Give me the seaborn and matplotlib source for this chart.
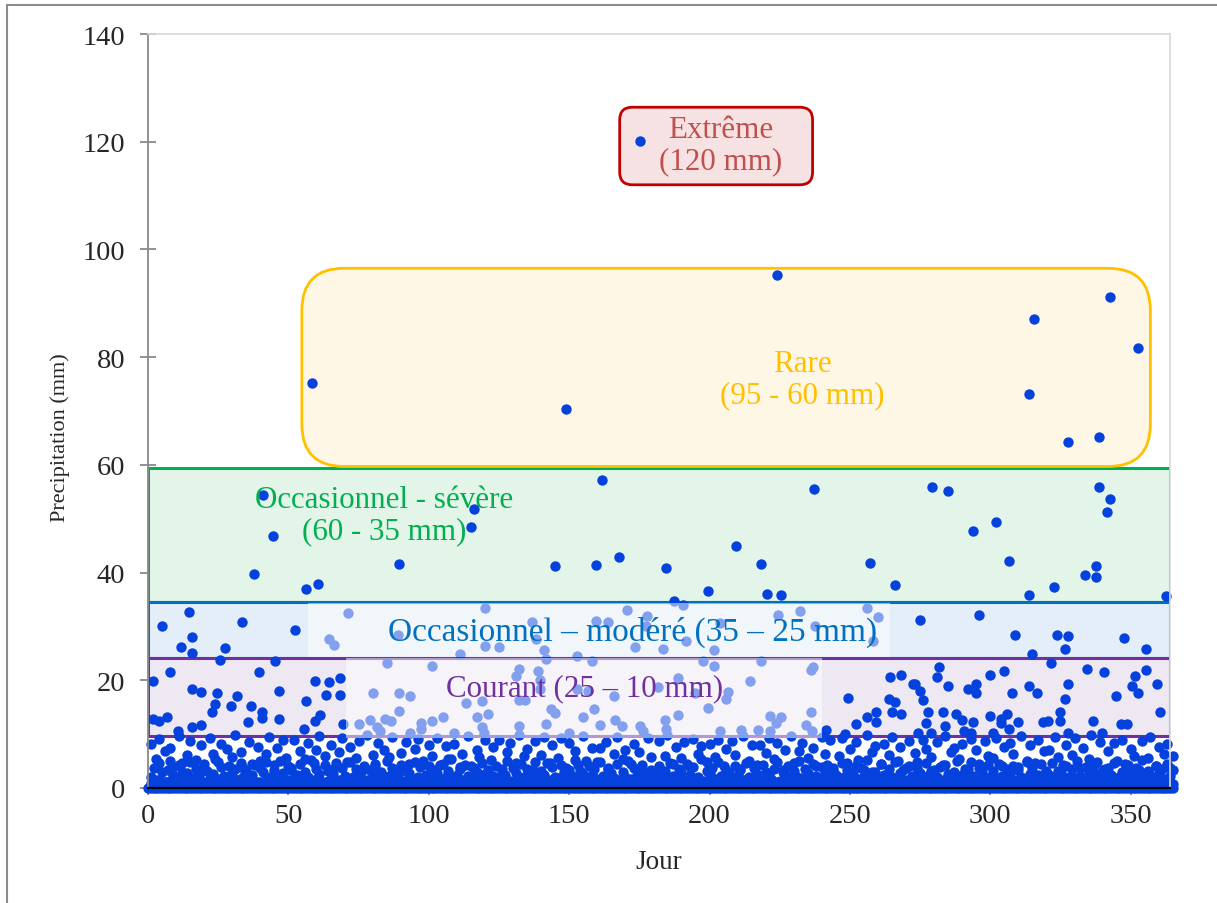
import pandas as pd
import seaborn as sns
import matplotlib.pyplot as plt
from matplotlib.patches import FancyBboxPatch, Rectangle

# wet days: (jour, mm)
extreme = [(175.4, 120.1)]
rare = [(58.4, 75.2), (148.8, 70.4), (224.2, 95.2), (342.7, 91.2), (315.7, 87.0),
        (352.7, 81.7), (313.9, 73.2), (327.8, 64.2), (338.8, 65.2)]
severe = [(41.0, 54.4), (44.5, 46.7), (37.6, 39.7), (56.3, 36.9), (60.5, 37.9), (89.3, 41.6),
          (161.8, 57.1), (116.0, 51.8), (115.2, 48.5), (144.8, 41.3), (159.7, 41.4), (167.7, 42.9),
          (237.3, 55.6), (209.4, 44.9), (184.6, 40.8), (218.4, 41.5), (199.5, 36.6), (220.3, 36.0),
          (225.4, 35.8), (257.1, 41.7), (266.1, 37.7), (187.5, 34.8), (279.1, 55.9), (285.0, 55.2),
          (338.7, 55.8), (342.6, 53.6), (341.5, 51.2), (301.9, 49.3), (293.9, 47.7), (306.8, 42.1),
          (337.6, 41.2), (333.7, 39.6), (337.6, 39.1), (322.8, 37.3), (313.8, 35.8), (362.7, 35.7)]
modere = [(4.9, 30.1), (14.7, 32.6), (15.7, 28.0), (11.9, 26.2), (15.7, 25.1), (27.6, 26.0),
          (33.5, 30.9), (52.4, 29.3), (71.4, 32.5), (64.3, 27.7), (66.4, 26.6), (25.6, 23.8),
          (45.4, 23.6), (89.0, 28.4), (120.0, 33.5), (136.8, 30.8), (138.1, 27.7), (120.0, 26.3),
          (125.0, 26.1), (141.1, 25.7), (111.2, 24.9), (170.7, 33.0), (177.7, 31.9), (177.2, 30.1),
          (159.7, 31.1), (163.8, 30.8), (173.5, 26.1), (152.8, 24.6), (141.8, 24.0), (158.0, 23.5),
          (190.6, 33.9), (232.3, 32.9), (224.3, 32.1), (256.1, 33.5), (260.1, 31.7), (203.6, 30.6),
          (237.4, 30.0), (191.5, 27.3), (183.6, 25.8), (201.5, 25.6), (258.1, 27.3), (197.6, 23.5),
          (201.5, 22.6), (218.4, 23.5), (275.0, 31.2), (295.8, 32.2), (308.9, 28.5), (323.7, 28.5),
          (327.6, 28.2), (326.7, 25.9), (347.6, 27.9), (355.6, 25.9), (314.7, 24.8), (321.7, 23.3)]
courant = [(1.8, 19.9), (7.8, 21.5), (39.6, 21.5), (15.7, 18.3), (18.7, 17.8), (24.7, 17.6),
           (23.7, 15.6), (22.7, 14.1), (29.6, 15.2), (31.6, 17.0), (36.7, 15.3), (40.7, 14.2),
           (40.7, 13.0), (46.6, 18.1), (46.6, 12.8), (59.4, 19.9), (64.4, 19.6), (68.3, 20.5),
           (56.3, 16.2), (63.3, 17.2), (68.3, 17.2), (61.2, 13.6), (59.4, 12.4), (35.7, 12.3),
           (1.8, 12.8), (3.9, 12.4), (6.8, 13.2), (15.7, 11.4), (18.7, 11.7), (10.8, 10.6),
           (55.4, 11.0), (69.3, 11.9), (85.3, 23.2), (80.2, 17.6), (89.3, 17.6), (89.3, 14.3),
           (75.3, 11.9), (79.2, 12.6), (84.3, 12.8), (86.4, 12.5), (81.6, 11.3), (82.6, 10.5),
           (101.3, 22.6), (93.2, 17.1), (113.1, 15.7), (119.1, 16.2), (121.1, 13.7), (117.0, 13.1),
           (105.1, 13.2), (101.2, 12.5), (97.2, 12.0), (97.2, 11.0), (93.2, 10.2), (109.0, 10.3),
           (119.1, 11.3), (119.7, 10.2), (132.0, 22.1), (131.1, 20.8), (138.9, 21.7), (132.1, 16.3),
           (134.2, 16.3), (139.7, 20.1), (139.7, 18.4), (143.4, 14.7), (144.8, 13.9), (141.9, 11.9),
           (132.0, 11.6), (149.8, 10.3), (152.8, 18.4), (156.7, 18.1), (158.8, 14.7), (154.9, 13.1),
           (160.9, 11.7), (165.8, 17.1), (166.5, 12.7), (168.9, 11.6), (175.1, 11.6), (176.3, 10.5),
           (188.6, 20.4), (181.6, 18.8), (194.7, 17.6), (206.4, 17.8), (205.7, 16.5), (214.5, 19.9),
           (199.5, 14.9), (188.6, 13.6), (184.0, 12.6), (184.6, 11.0), (203.6, 10.5), (211.3, 10.7),
           (217.2, 10.8), (221.4, 13.3), (223.5, 12.1), (225.5, 13.1), (221.4, 10.5), (236.3, 22.0),
           (237.0, 22.4), (236.3, 14.1), (234.4, 11.7), (236.4, 10.5), (264.1, 20.7), (268.1, 21.0),
           (272.3, 19.3), (249.2, 16.8), (263.8, 16.5), (266.1, 16.0), (265.0, 14.1), (268.1, 13.7),
           (259.2, 14.1), (256.2, 13.2), (259.2, 12.2), (252.2, 11.8), (241.5, 10.8), (248.3, 10.0),
           (281.9, 22.5), (281.0, 20.6), (273.1, 19.3), (275.0, 18.1), (276.2, 16.3), (285.0, 19.0),
           (292.0, 18.4), (295.0, 19.4), (295.0, 17.6), (299.9, 20.9), (304.9, 21.7), (307.8, 17.6),
           (313.8, 18.9), (316.7, 17.6), (327.6, 19.4), (326.7, 16.5), (324.7, 14.2), (324.7, 12.5),
           (334.6, 22.1), (340.6, 21.5), (344.6, 17.1), (351.6, 20.8), (355.6, 21.9), (350.6, 18.9),
           (352.6, 17.6), (359.5, 19.3), (360.4, 14.2), (277.9, 14.2), (283.0, 14.1), (287.8, 13.7),
           (290.0, 12.7), (293.9, 12.3), (277.0, 12.1), (284.0, 11.6), (299.9, 13.4), (303.8, 12.8),
           (305.8, 13.7), (303.8, 12.0), (309.7, 12.2), (306.8, 11.0), (318.6, 12.2), (320.7, 12.4),
           (274.1, 10.3), (278.9, 10.3), (290.7, 10.6), (293.1, 10.3), (300.8, 10.3), (327.5, 10.3),
           (336.7, 12.5), (346.6, 11.8), (348.6, 11.9), (339.7, 10.3)]

# dry and light days, one value per day (jour 0..365)
jours = list(range(0, 366))
sec = [0.0] * 366
low_a = [0.9, 1.2, 0.6, 1.4, 0.8, 1.1, 0.5, 1.3, 0.7, 1.0, 1.4, 0.6, 0.9, 1.2, 0.4, 1.1, 0.8, 1.3, 0.7, 1.0,
         1.2, 0.5, 1.4, 0.9, 0.7, 1.1, 1.3, 0.6, 1.0, 0.8, 1.4, 0.5, 1.2, 0.9, 1.1, 0.7, 1.3, 0.6, 1.0, 1.2,
         0.8, 1.4, 0.6, 1.1, 0.9, 1.3, 0.5, 1.0, 1.2, 0.7, 1.4, 0.9, 0.6, 1.1, 1.3, 0.8, 1.0, 0.5, 1.2, 1.4,
         0.7, 1.1, 0.9, 1.3, 0.6, 1.0, 1.2, 0.8, 1.4, 0.5, 1.1, 0.9, 1.3, 0.7, 1.0, 1.2, 0.6, 1.4, 0.8, 1.1,
         1.3, 0.6, 1.0, 1.2, 0.8, 1.4, 0.7, 0.9, 1.1, 0.5, 1.3, 1.0, 0.8, 1.2, 0.6, 1.4, 0.9, 1.1, 0.7, 1.3,
         0.5, 1.0, 1.2, 0.9, 1.4, 0.7, 1.1, 0.6, 1.3, 0.8, 1.0, 1.2, 0.5, 1.4, 0.9, 1.1, 0.7, 1.3, 0.6, 1.0,
         1.2, 0.8, 1.4, 0.6, 1.1, 0.9, 1.3, 0.5, 1.0, 1.2, 0.7, 1.4, 0.8, 1.1, 0.6, 1.3, 0.9, 1.0, 1.2, 0.5,
         1.4, 0.7, 1.1, 0.9, 1.3, 0.6, 1.0, 1.2, 0.8, 1.4, 0.5, 1.1, 0.9, 1.3, 0.7, 1.0, 1.2, 0.6, 1.4, 0.8,
         1.1, 1.3, 0.6, 1.0, 1.2, 0.8, 1.4, 0.7, 0.9, 1.1, 0.5, 1.3, 1.0, 0.8, 1.2, 0.6, 1.4, 0.9, 1.1, 0.7,
         1.3, 0.5, 1.0, 1.2, 0.9, 1.4, 0.7, 1.1, 0.6, 1.3, 0.8, 1.0, 1.2, 0.5, 1.4, 0.9, 1.1, 0.7, 1.3, 0.6,
         1.0, 1.2, 0.8, 1.4, 0.6, 1.1, 0.9, 1.3, 0.5, 1.0, 1.2, 0.7, 1.4, 0.8, 1.1, 0.6, 1.3, 0.9, 1.0, 1.2,
         0.5, 1.4, 0.7, 1.1, 0.9, 1.3, 0.6, 1.0, 1.2, 0.8, 1.4, 0.5, 1.1, 0.9, 1.3, 0.7, 1.0, 1.2, 0.6, 1.4,
         0.8, 1.1, 1.3, 0.6, 1.0, 1.2, 0.8, 1.4, 0.7, 0.9, 1.1, 0.5, 1.3, 1.0, 0.8, 1.2, 0.6, 1.4, 0.9, 1.1,
         0.7, 1.3, 0.5, 1.0, 1.2, 0.9, 1.4, 0.7, 1.1, 0.6, 1.3, 0.8, 1.0, 1.2, 0.5, 1.4, 0.9, 1.1, 0.7, 1.3,
         0.6, 1.0, 1.2, 0.8, 1.4, 0.6, 1.1, 0.9, 1.3, 0.5, 1.0, 1.2, 0.7, 1.4, 0.8, 1.1, 0.6, 1.3, 0.9, 1.0,
         1.2, 0.5, 1.4, 0.7, 1.1, 0.9, 1.3, 0.6, 1.0, 1.2, 0.8, 1.4, 0.5, 1.1, 0.9, 1.3, 0.7, 1.0, 1.2, 0.6,
         1.4, 0.8, 1.1, 1.3, 0.6, 1.0, 1.2, 0.8, 1.4, 0.7, 0.9, 1.1, 0.5, 1.3, 1.0, 0.8, 1.2, 0.6, 1.4, 0.9,
         1.1, 0.7, 1.3, 0.5, 1.0, 1.2, 0.9, 1.4, 0.7, 1.1, 0.6, 1.3, 0.8, 1.0, 1.2, 0.5, 1.4, 0.9, 1.1, 0.7,
         1.3, 0.6, 1.0, 1.2, 0.8]
low_b = [2.1, 3.8, 1.4, 4.6, 2.9, 1.2, 3.3, 5.1, 2.4, 1.7, 4.2, 3.0, 1.5, 2.7, 4.9, 1.9, 3.6, 2.2, 1.3, 4.4,
         3.1, 1.8, 2.6, 5.3, 1.6, 3.9, 2.3, 1.1, 4.1, 2.8, 3.5, 1.4, 4.7, 2.0, 3.2, 1.7, 2.5, 4.3, 1.2, 3.7,
         2.9, 4.8, 1.5, 2.2, 3.4, 1.9, 5.0, 2.7, 1.3, 4.0, 3.3, 1.6, 2.4, 4.5, 1.8, 3.0, 2.1, 5.2, 1.4, 3.6,
         2.6, 1.2, 4.2, 3.1, 1.7, 2.8, 4.6, 1.5, 3.8, 2.3, 1.1, 4.9, 2.0, 3.5, 1.6, 2.9, 4.1, 1.3, 3.3, 2.5,
         4.4, 1.9, 3.0, 1.4, 5.1, 2.2, 3.7, 1.8, 2.6, 4.3, 1.2, 3.2, 2.7, 1.5, 4.8, 2.1, 3.9, 1.7, 2.4, 4.0,
         1.6, 3.4, 2.8, 1.3, 4.5, 2.0, 3.1, 5.4, 1.9, 2.5, 3.6, 1.4, 4.2, 2.3, 1.8, 3.8, 2.9, 1.1, 4.7, 2.6,
         3.3, 1.5, 2.2, 4.1, 1.7, 3.0, 2.4, 5.0, 1.3, 3.7, 2.8, 1.6, 4.4, 2.1, 3.5, 1.2, 2.7, 4.9, 1.9, 3.2,
         2.5, 4.6, 1.4, 3.9, 2.0, 1.8, 4.3, 2.9, 1.5, 3.4, 2.2, 5.2, 1.7, 3.1, 2.6, 1.3, 4.0, 2.4, 3.6, 1.6,
         4.8, 2.3, 1.2, 3.5, 2.7, 1.9, 4.5, 1.4, 3.0, 2.1, 5.1, 1.6, 3.8, 2.5, 1.3, 4.2, 2.8, 1.7, 3.3, 2.0,
         1.5, 4.1, 2.6, 3.2, 1.8, 4.7, 2.2, 1.4, 3.6, 2.9, 1.1, 4.4, 2.4, 3.9, 1.7, 2.0, 5.3, 1.3, 3.1, 2.7,
         3.7, 1.6, 4.9, 2.3, 1.9, 3.4, 2.8, 1.2, 4.0, 2.5, 3.3, 1.5, 4.6, 2.1, 1.8, 3.8, 2.6, 1.4, 4.3, 3.0,
         2.2, 1.7, 3.5, 4.8, 1.3, 2.9, 2.4, 4.1, 1.6, 3.2, 2.0, 5.0, 1.9, 3.6, 2.7, 1.2, 4.5, 2.3, 1.5, 3.9,
         2.8, 4.2, 1.4, 3.1, 2.5, 1.8, 4.7, 2.1, 3.4, 1.3, 2.6, 4.0, 1.7, 3.7, 2.2, 5.2, 1.5, 3.0, 2.9, 1.6,
         4.4, 2.4, 1.2, 3.6, 2.0, 4.9, 1.9, 2.7, 3.3, 1.4, 4.1, 2.3, 1.6, 3.8, 2.8, 1.1, 4.6, 2.5, 3.2, 1.8,
         2.1, 3.9, 1.5, 4.3, 2.6, 1.7, 3.0, 5.1, 1.3, 2.4, 3.5, 1.9, 4.8, 2.2, 1.4, 3.7, 2.9, 1.6, 4.2, 2.0,
         3.1, 1.8, 4.5, 2.3, 1.2, 3.6, 2.7, 4.0, 1.5, 3.3, 2.1, 1.7, 4.9, 2.6, 3.8, 1.4, 2.5, 4.4, 1.9, 3.0,
         2.4, 4.7, 1.6, 3.2, 2.8, 1.3, 4.1, 2.0, 3.5, 1.8, 5.0, 2.2, 1.5, 3.9, 2.9, 1.2, 4.3, 2.6, 1.7, 3.4,
         1.9, 3.7, 2.5, 4.6, 1.4, 2.1, 3.0, 1.6, 4.2, 2.7, 1.3, 3.8, 2.3, 5.2, 1.8, 3.1, 2.4, 1.5, 4.0, 2.8,
         3.6, 1.7, 4.4, 2.2, 3.3]
low_c = [8.2, 0.6, 5.4, 9.1, 1.2, 6.8, 0.9, 7.5, 3.9, 1.1, 9.6, 4.7, 0.7, 6.1, 8.8, 1.4, 5.2, 0.8, 7.9, 3.4,
         1.0, 9.3, 6.4, 0.5, 4.9, 8.1, 1.3, 7.2, 0.9, 5.8, 9.8, 1.5, 6.6, 3.7, 0.6, 8.5, 4.4, 1.2, 7.7, 5.1,
         0.8, 6.3, 9.4, 1.1, 4.2, 7.4, 0.7, 8.9, 5.6, 1.4, 3.8, 9.0, 0.9, 6.9, 1.3, 5.3, 8.3, 0.6, 4.6, 7.1,
         9.7, 1.2, 5.9, 0.8, 8.0, 3.5, 1.5, 6.7, 9.2, 0.7, 4.8, 7.6, 1.0, 5.5, 8.7, 1.3, 3.6, 9.9, 0.9, 6.2,
         4.1, 8.4, 1.1, 7.0, 0.6, 5.7, 9.5, 1.4, 3.3, 6.5, 0.8, 8.6, 4.5, 1.2, 7.3, 9.1, 0.7, 5.0, 1.0, 8.0,
         6.0, 1.3, 9.3, 4.3, 0.9, 7.8, 5.4, 1.5, 8.2, 0.6, 3.9, 6.4, 1.1, 9.6, 4.0, 0.8, 7.1, 5.8, 1.4, 8.9,
         0.7, 5.2, 7.7, 1.2, 9.0, 3.6, 0.9, 6.6, 8.4, 1.0, 4.7, 9.8, 0.6, 5.9, 7.3, 1.3, 3.4, 8.8, 1.1, 6.1,
         9.4, 0.8, 4.6, 7.9, 1.5, 5.6, 9.2, 0.7, 3.7, 8.3, 1.2, 6.8, 4.2, 0.9, 9.7, 5.0, 1.4, 7.4, 0.6, 4.9,
         7.5, 1.0, 8.6, 3.8, 0.8, 6.3, 9.5, 1.3, 5.3, 7.0, 0.7, 4.4, 8.1, 1.1, 6.7, 3.5, 0.9, 9.3, 5.7, 1.4,
         3.2, 8.8, 0.6, 6.0, 9.9, 1.2, 4.5, 7.6, 0.8, 5.5, 8.5, 1.5, 3.9, 9.1, 0.7, 6.4, 7.8, 1.0, 4.8, 8.2,
         1.3, 5.8, 9.0, 0.9, 4.1, 7.2, 1.1, 8.7, 6.2, 0.6, 3.6, 9.6, 1.4, 5.1, 7.9, 0.8, 4.3, 8.0, 1.2, 6.5,
         9.2, 0.7, 5.4, 8.4, 1.0, 3.3, 7.1, 1.5, 9.7, 4.6, 0.9, 6.9, 8.3, 1.2, 5.6, 0.6, 7.5, 4.0, 1.3, 9.4,
         6.3, 1.1, 8.9, 3.7, 0.8, 5.9, 9.3, 1.4, 4.7, 7.3, 0.7, 8.6, 5.2, 1.0, 3.4, 9.8, 1.2, 6.7, 7.8, 0.9,
         4.4, 8.1, 1.3, 6.1, 9.5, 0.6, 5.0, 7.7, 1.1, 3.8, 8.8, 0.8, 6.5, 4.9, 1.5, 9.0, 7.2, 0.7, 5.7, 3.3,
         8.5, 1.2, 4.2, 9.6, 0.9, 6.6, 7.4, 1.4, 5.3, 8.2, 0.6, 3.5, 9.1, 1.0, 7.0, 4.5, 1.3, 8.7, 6.0, 0.8,
         5.5, 9.3, 1.1, 4.1, 7.6, 0.7, 8.4, 6.3, 1.2, 3.9, 9.7, 0.9, 5.1, 7.9, 1.4, 4.6, 8.9, 0.6, 6.8, 3.2,
         7.1, 1.0, 9.4, 5.8, 0.8, 4.3, 8.0, 1.3, 6.2, 9.2, 0.7, 3.7, 7.5, 1.1, 5.4, 9.9, 1.5, 4.8, 8.6, 0.9,
         3.6, 6.9, 1.2, 8.3, 5.0, 0.6, 9.0, 4.4, 1.4, 7.2, 6.0, 0.8, 3.3, 8.7, 1.1, 5.6, 9.5, 0.7, 4.0, 7.7,
         1.0, 6.4, 8.1, 3.8, 5.9]

frames = [pd.DataFrame({"jour": jours, "mm": sec})]
for layer in (low_a, low_b, low_c):
    frames.append(pd.DataFrame({"jour": jours[1:], "mm": layer}))
for band in (extreme, rare, severe, modere, courant):
    frames.append(pd.DataFrame(band, columns=["jour", "mm"]))
df = pd.concat(frames, ignore_index=True)

sns.set_theme(style="white")
plt.rcParams['font.family'] = ['Liberation Serif', 'DejaVu Serif']

W, H = 1217, 904
fig = plt.figure(figsize=(W / 100, H / 100), dpi=100)
ax = fig.add_axes([148 / W, 1 - 789 / H, (1170 - 148) / W, (789 - 35) / H])
ax.set_xlim(0, 364)
ax.set_ylim(0, 140)

# classes de pluie (bandes horizontales)
bands = [(34.5, 59.4, "#E3F4E9", "#00B050"),
         (24.2, 34.5, "#E4EEF8", "#0070C0"),
         (9.6, 24.2, "#EEE8F3", "#7030A0")]
for y0, y1, fc, ec in bands:
    ax.add_patch(Rectangle((0, y0), 364, y1 - y0, facecolor=fc, edgecolor=ec, lw=2.2, zorder=1))

asp = 2.809 / 5.386
ax.add_patch(FancyBboxPatch((54.8, 59.7), 302.2, 36.8,
                            boxstyle="round,pad=0,rounding_size=15", mutation_aspect=asp,
                            facecolor="#FFF7E6", edgecolor="#FFC000", lw=2, zorder=1))
ax.add_patch(FancyBboxPatch((168.0, 112.0), 68.7, 14.4,
                            boxstyle="round,pad=0,rounding_size=4.5", mutation_aspect=asp,
                            facecolor="#F6E2E2", edgecolor="#C00000", lw=2, zorder=1))

sns.scatterplot(data=df, x="jour", y="mm", color="#0541DC", s=56, linewidth=0,
                ax=ax, zorder=2, clip_on=False, legend=False)

# zones de texte semi-transparentes
ax.add_patch(Rectangle((56.9, 24.3), 207.2, 10.1, facecolor="white", alpha=0.5, lw=0, zorder=3))
ax.add_patch(Rectangle((70.5, 9.3), 169.7, 14.9, facecolor="white", alpha=0.5, lw=0, zorder=3))

tkw = dict(ha="center", va="center", fontsize=22.3, linespacing=1.1, zorder=4)
ax.text(203.9, 119.4, "Extrême\n(120 mm)", color="#C0504D", **tkw)
ax.text(233.1, 76.0, "Rare\n(95 - 60 mm)", color="#FFC000", **tkw)
ax.text(84.0, 50.6, "Occasionnel - sévère\n(60 - 35 mm)", color="#00B050", **tkw)
tkw["fontsize"] = 24
ax.text(172.6, 29.0, "Occasionnel – modéré (35 – 25 mm)", color="#0070C0", **tkw)
tkw["fontsize"] = 22.3
ax.text(155.5, 18.6, "Courant (25 – 10 mm)", color="#7030A0", **tkw)

ax.set_xticks(range(0, 351, 50))
ax.set_yticks(range(0, 141, 20))
ax.tick_params(axis="y", direction="inout", length=11, width=1.3, color="#898989",
               labelsize=20.5, pad=11, left=True)
ax.tick_params(axis="x", direction="out", length=5, width=1.3, color="#898989",
               labelsize=20.5, pad=6, bottom=True)
ax.spines["left"].set_color("#898989")
ax.spines["left"].set_linewidth(1.3)
ax.spines["bottom"].set_color("black")
ax.spines["bottom"].set_linewidth(1.6)
ax.spines["bottom"].set_zorder(5)
for side in ("top", "right"):
    ax.spines[side].set_color("#D9D9D9")
    ax.spines[side].set_linewidth(1.2)

ax.set_xlabel("Jour", fontsize=19.5)
ax.set_ylabel("Precipitation (mm)", fontsize=16)
ax.xaxis.set_label_coords(0.5, -0.081)
ax.yaxis.set_label_coords(-0.076, 0.466)

fig.add_artist(Rectangle((7 / W, -0.1), 1.2, 1.1 - 6 / H, transform=fig.transFigure,
                         fill=False, edgecolor="#8C8C8C", lw=1.5))

fig.savefig("out.png", dpi=100)
